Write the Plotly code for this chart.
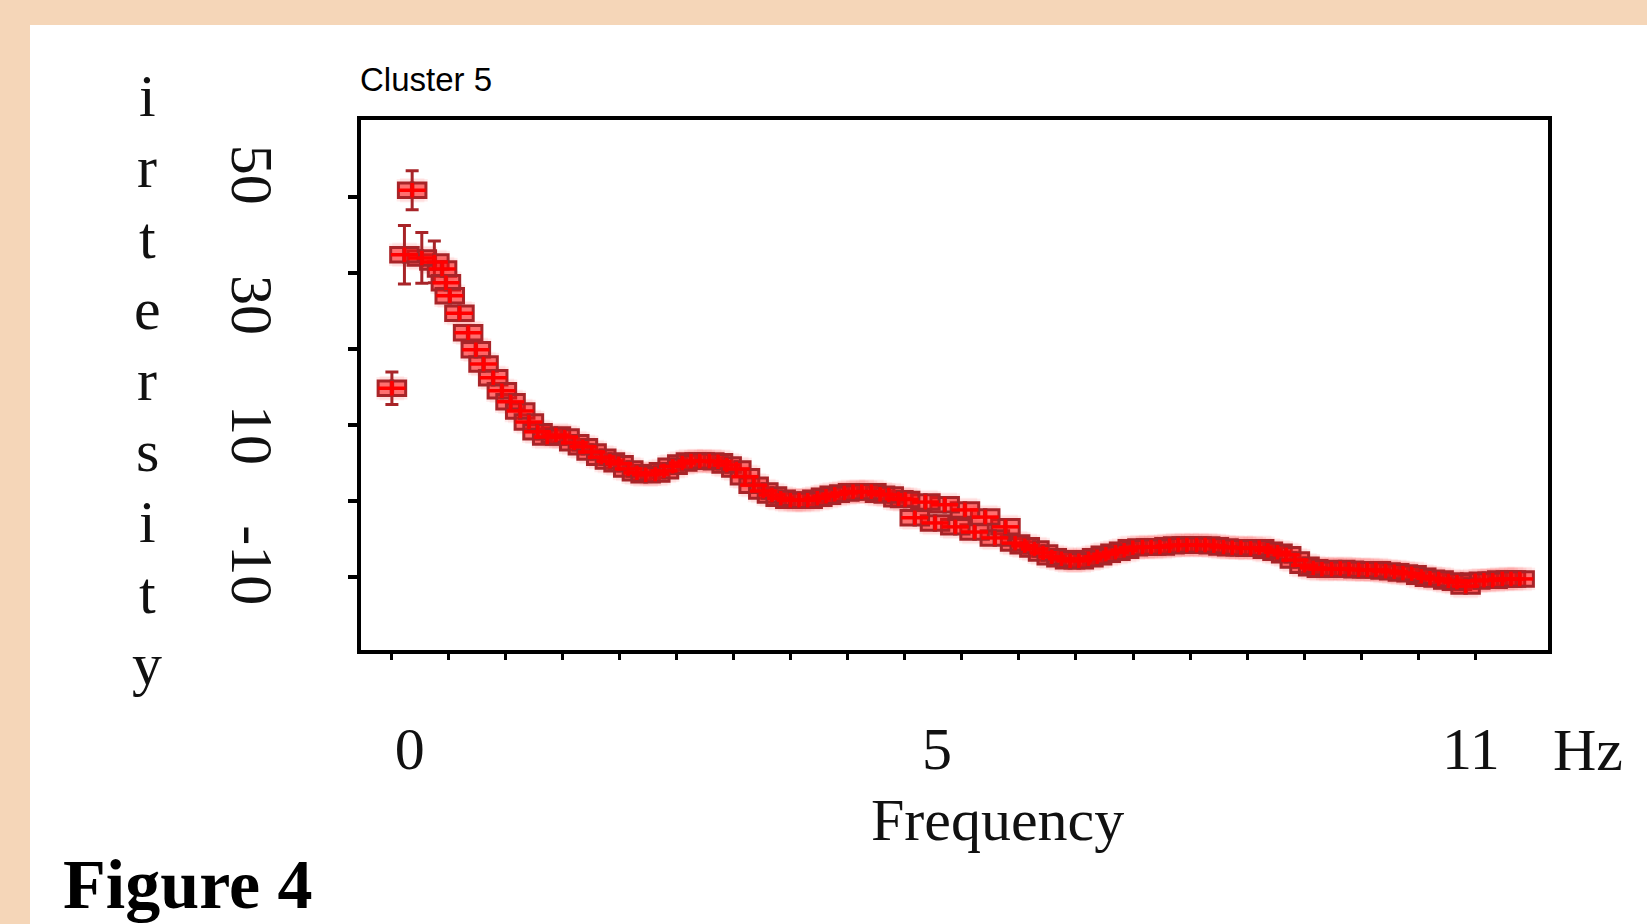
import plotly.graph_objects as go

# ---------------- data ----------------
freq_hz = [-0.34, -0.13, -0.21, -0.03, 0.10, 0.18, 0.22, 0.26, 0.36, 0.45,
           0.53, 0.61, 0.71, 0.80, 0.89, 0.99, 1.08, 1.17, 1.27, 1.36,
           1.45, 1.55, 1.64, 1.73, 1.83, 1.92, 2.01, 2.11, 2.20, 2.29,
           2.39, 2.48, 2.57, 2.67, 2.76, 2.85, 2.95, 3.04, 3.13, 3.23,
           3.32, 3.41, 3.51, 3.60, 3.69, 3.79, 3.88, 3.97, 4.07, 4.16,
           4.25, 4.35, 4.44, 4.53, 4.63, 4.72, 4.81, 4.91, 4.98, 5.08,
           5.19, 5.29, 5.39, 5.50, 5.60, 5.70, 5.81, 5.91, 6.02, 6.12,
           6.22, 6.32, 6.41, 6.50, 6.60, 6.69, 6.78, 6.88, 6.97, 7.06,
           7.16, 7.25, 7.34, 7.44, 7.53, 7.62, 7.72, 7.81, 7.90, 8.00,
           8.09, 8.18, 8.28, 8.37, 8.46, 8.56, 8.65, 8.74, 8.84, 8.93,
           9.02, 9.12, 9.21, 9.30, 9.40, 9.49, 9.58, 9.68, 9.77, 9.86,
           9.96, 10.05, 10.14, 10.23, 10.33, 10.42, 10.51, 10.61, 10.70, 10.79,
           10.89, 10.98, 11.07, 11.17, 11.26, 11.35]

intensity = [16.9, 47.3, 37.4, 36.9, 36.3, 35.2, 33.1, 31.1, 28.4, 25.4,
             22.8, 20.6, 18.5, 16.5, 14.8, 13.4, 11.7, 10.2, 9.4, 9.7,
             9.4, 8.5, 7.9, 7.1, 6.3, 5.7, 5.3, 4.5, 3.9, 3.6,
             3.7, 4.2, 4.9, 5.4, 5.7, 5.7, 5.7, 5.6, 5.1, 4.5,
             3.3, 2.0, 1.1, 0.5, 0.0, -0.3, -0.3, -0.3, 0.0, 0.3,
             0.6, 0.8, 1.0, 1.0, 1.0, 0.6, 0.5, -0.1, -0.2, -3.0,
             -0.6, -3.8, -1.0, -4.4, -1.8, -5.2, -2.9, -6.1, -4.4, -6.9,
             -7.3, -7.8, -8.4, -9.0, -9.3, -9.6, -9.6, -9.3, -9.0, -8.6,
             -8.3, -8.0, -7.6, -7.5, -7.5, -7.5, -7.3, -7.2, -7.2, -7.2,
             -7.2, -7.3, -7.5, -7.6, -7.6, -7.7, -7.6, -8.0, -8.3, -8.7,
             -9.5, -10.3, -10.7, -10.9, -10.9, -10.8, -10.9, -11.0, -11.0, -11.0,
             -11.2, -11.3, -11.5, -11.6, -12.0, -12.3, -12.4, -12.7, -12.9, -13.5,
             -12.7, -12.6, -12.6, -12.4, -12.4, -12.4]

# error bars of the first five (low-frequency) points
err_first = [2.5, 3.0, 4.5, 3.9, 3.2]

x_tick_values = [0, 5, 11]
x_tick_labels = ["0\u2007", "\u2007\u20075", "11\u2007"]
y_tick_values = [50, 30, 10, -10]
y_tick_labels = ["50", "30", "10", "-10"]
y_label_letters = ["i", "r", "t", "e", "r", "s", "i", "t", "y"]

# ---------------- layout geometry ----------------
W, H = 1647, 924
L, R, T, B = 360.5, 1548.0, 119.5, 650.0          # plot-area edges (px)

# data scale (px per unit) of the value axes
X_PPU, X_ZERO = 96.47, 424.7
Y_PPU, Y_REF_PX, Y_REF = 6.51, 368.0, 20.0
x_rng = [(L - X_ZERO) / X_PPU, (R - X_ZERO) / X_PPU]
y_rng = [Y_REF + (Y_REF_PX - B) / Y_PPU, Y_REF + (Y_REF_PX - T) / Y_PPU]
LABEL_DROP = 11.0 / Y_PPU                           # rotated labels sit a bit low
y_lab_rng = [y_rng[0] + LABEL_DROP, y_rng[1] + LABEL_DROP]

# minor tick-mark axes (independent spacing in the original figure)
XT_PPU, XT0 = 57.04, 391.5
YT_PPU, YT0 = 7.6, 577.0
xt_rng = [(L - XT0) / XT_PPU, (R - XT0) / XT_PPU]
yt_rng = [(YT0 - B) / YT_PPU, (YT0 - T) / YT_PPU]

# marker geometry: a wide rectangle (two offset squares) with a cross
BOX_H = 14.5
SHIFT = 6.5 / X_PPU
HALF_W = 13.5 / X_PPU

DARK = "#A82428"
BRIGHT = "#FF0000"
SERIF = "Liberation Serif"

fig = go.Figure()

# empty traces so the tick-mark / label axes are drawn
fig.add_trace(go.Scatter(x=[], y=[], xaxis="x2", yaxis="y", showlegend=False))
fig.add_trace(go.Scatter(x=[], y=[], xaxis="x", yaxis="y2", showlegend=False))
fig.add_trace(go.Scatter(x=[], y=[], xaxis="x", yaxis="y3", showlegend=False))

# soft glow under the markers (scan blur)
fig.add_trace(go.Scatter(
    x=freq_hz, y=intensity, mode="markers",
    marker=dict(symbol="square", size=BOX_H + 10,
                color="rgba(255,60,60,0.07)", line=dict(width=0)),
    error_x=dict(type="constant", value=HALF_W + 2 / X_PPU, visible=True,
                 color="rgba(255,60,60,0.10)", thickness=BOX_H + 8, width=0),
    xaxis="x", yaxis="y", showlegend=False, hoverinfo="skip"))

# error bars (first points)
fig.add_trace(go.Scatter(
    x=freq_hz[:5], y=intensity[:5], mode="markers",
    marker=dict(size=1, color="rgba(0,0,0,0)"),
    error_y=dict(type="data", array=err_first, visible=True,
                 color=DARK, thickness=3, width=6.5),
    xaxis="x", yaxis="y", showlegend=False, hoverinfo="skip"))

# rectangle halves
for ax in ("x3", "x4"):
    fig.add_trace(go.Scatter(
        x=freq_hz, y=intensity, mode="markers",
        marker=dict(symbol="square", size=BOX_H,
                    color="rgba(255,10,10,0.52)",
                    line=dict(color=DARK, width=3)),
        xaxis=ax, yaxis="y", showlegend=False, hoverinfo="skip"))

# inner cross
fig.add_trace(go.Scatter(
    x=freq_hz, y=intensity, mode="markers",
    marker=dict(symbol="line-ns-open", size=BOX_H / 1.4, color=BRIGHT,
                line=dict(color=BRIGHT, width=3.5)),
    error_x=dict(type="constant", value=HALF_W, visible=True,
                 color=BRIGHT, thickness=3.5, width=0),
    xaxis="x5", yaxis="y", showlegend=False))

common_off = dict(showgrid=False, zeroline=False)

fig.update_layout(
    width=W, height=H, autosize=False,
    margin=dict(l=0, r=0, t=0, b=0, pad=0),
    paper_bgcolor="#F5D6B8", plot_bgcolor="white",
    showlegend=False,
    xaxis=dict(domain=[L / W, R / W], range=x_rng, anchor="y",
               showline=True, mirror=True, linecolor="black", linewidth=4,
               ticks="", tickvals=x_tick_values, ticktext=x_tick_labels,
               tickfont=dict(family=SERIF, size=60, color="#111"),
               ticklabelstandoff=43, **common_off),
    xaxis2=dict(overlaying="x", anchor="y", range=xt_rng, side="bottom",
                tickvals=list(range(20)), ticks="outside", ticklen=9,
                tickwidth=3, tickcolor="black", showticklabels=False,
                showline=False, **common_off),
    xaxis3=dict(overlaying="x", anchor="y", visible=False,
                range=[x_rng[0] + SHIFT, x_rng[1] + SHIFT]),
    xaxis4=dict(overlaying="x", anchor="y", visible=False,
                range=[x_rng[0] - SHIFT, x_rng[1] - SHIFT]),
    xaxis5=dict(overlaying="x", anchor="y", visible=False, range=x_rng),
    yaxis=dict(domain=[1 - B / H, 1 - T / H], range=y_rng, anchor="x",
               showline=True, mirror=True, linecolor="black", linewidth=4,
               ticks="", showticklabels=False, **common_off),
    yaxis2=dict(overlaying="y", anchor="x", range=yt_rng, side="left",
                tickvals=[0, 10, 20, 30, 40, 50], ticks="outside",
                ticklen=12, tickwidth=3.5, tickcolor="black",
                showticklabels=False, showline=False, **common_off),
    yaxis3=dict(overlaying="y", anchor="x", range=y_lab_rng, side="left",
                ticks="", tickvals=y_tick_values, ticktext=y_tick_labels,
                tickangle=90, showline=False,
                tickfont=dict(family=SERIF, size=60, color="#111"),
                ticklabelstandoff=68, **common_off),
    shapes=[dict(type="rect", xref="paper", yref="paper",
                 x0=30 / W, x1=1.0, y0=0.0, y1=1 - 25 / H,
                 fillcolor="white", line=dict(width=0), layer="below")],
)

annotations = [
    dict(text="Cluster 5", x=358 / W, y=1 - 79 / H, xanchor="left",
         yanchor="middle",
         font=dict(family="Liberation Sans", size=33, color="#000")),
    dict(text="Frequency", x=998 / W, y=1 - 820 / H, xanchor="center",
         yanchor="middle", font=dict(family=SERIF, size=60, color="#111")),
    dict(text="Hz", x=1588 / W, y=1 - 750 / H, xanchor="center",
         yanchor="middle", font=dict(family=SERIF, size=60, color="#111")),
    dict(text="<b>Figure 4</b>", x=61 / W, y=1 - 884 / H, xanchor="left",
         yanchor="middle", font=dict(family=SERIF, size=70, color="black")),
]
for i, ch in enumerate(y_label_letters):
    annotations.append(dict(
        text=ch, x=147 / W, y=1 - (96 + 71 * i) / H, xanchor="center",
        yanchor="middle", font=dict(family=SERIF, size=60, color="#111")))
for a in annotations:
    a.update(xref="paper", yref="paper", showarrow=False)
fig.update_layout(annotations=annotations)

fig.write_html("out.html")
